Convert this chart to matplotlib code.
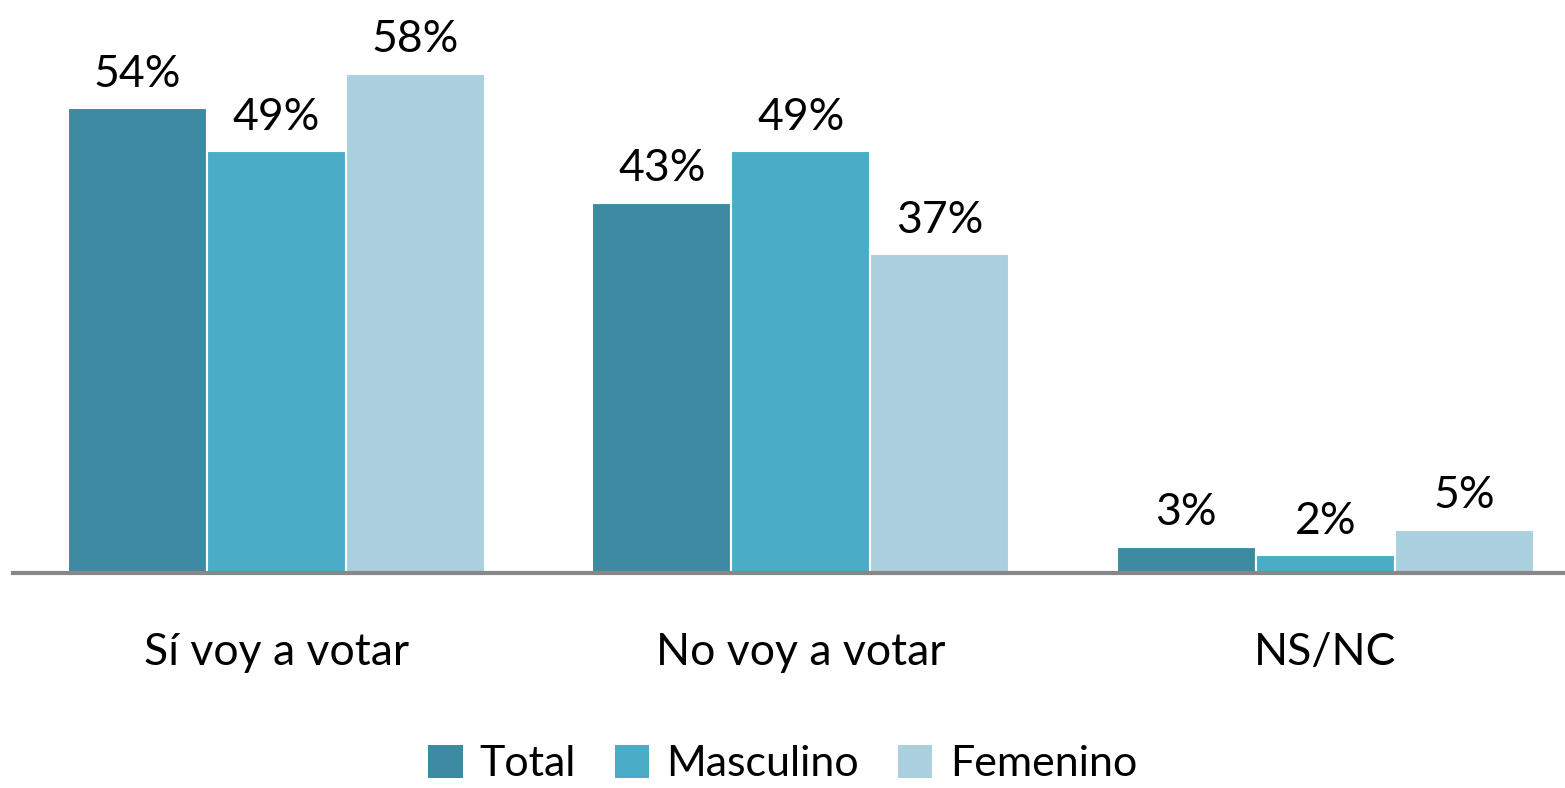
import matplotlib.pyplot as plt
from matplotlib.patches import Patch
import numpy as np

categories = ['Sí voy a votar', 'No voy a votar', 'NS/NC']
series = ['Total', 'Masculino', 'Femenino']
total = [54, 43, 3]
masculino = [49, 49, 2]
femenino = [58, 37, 5]
colors = ['#3d8ba3', '#4aacc6', '#aacfdd']

plt.rcParams['font.family'] = ['Lato', 'DejaVu Sans']

fig = plt.figure(figsize=(15.65, 7.88), dpi=100)
ax = fig.add_axes([13 / 1565, (788 - 572.5) / 788, 1 - 13 / 1565, 572.5 / 788])

x = np.arange(len(categories))
width = 0.265
for i, (vals, col) in enumerate(zip([total, masculino, femenino], colors)):
    pos = x + (i - 1) * width
    ax.bar(pos, vals, width, color=col, edgecolor='white', linewidth=1.5, zorder=2)
    for p, v in zip(pos, vals):
        ax.text(p, v + 1.6, f'{v}%', ha='center', va='bottom', fontsize=32, color='black')

ax.set_xlim(-0.502, 2.457)
ax.set_ylim(0, 66.6)
for s in ['top', 'right', 'left']:
    ax.spines[s].set_visible(False)
ax.spines['bottom'].set_color('#878787')
ax.spines['bottom'].set_linewidth(3)
ax.spines['bottom'].set_zorder(3)
ax.set_yticks([])
ax.set_xticks(x)
ax.set_xticklabels(categories, fontsize=32)
ax.tick_params(axis='x', length=0, pad=43)

handles = [Patch(facecolor=c, label=s) for c, s in zip(colors, series)]
fig.legend(handles=handles, loc='lower center', bbox_to_anchor=(0.5, -0.043), ncol=3,
           frameon=False, fontsize=31, handlelength=0.8, handleheight=0.8,
           handletextpad=0.4, columnspacing=0.9)

fig.savefig('out.png', dpi=100)
